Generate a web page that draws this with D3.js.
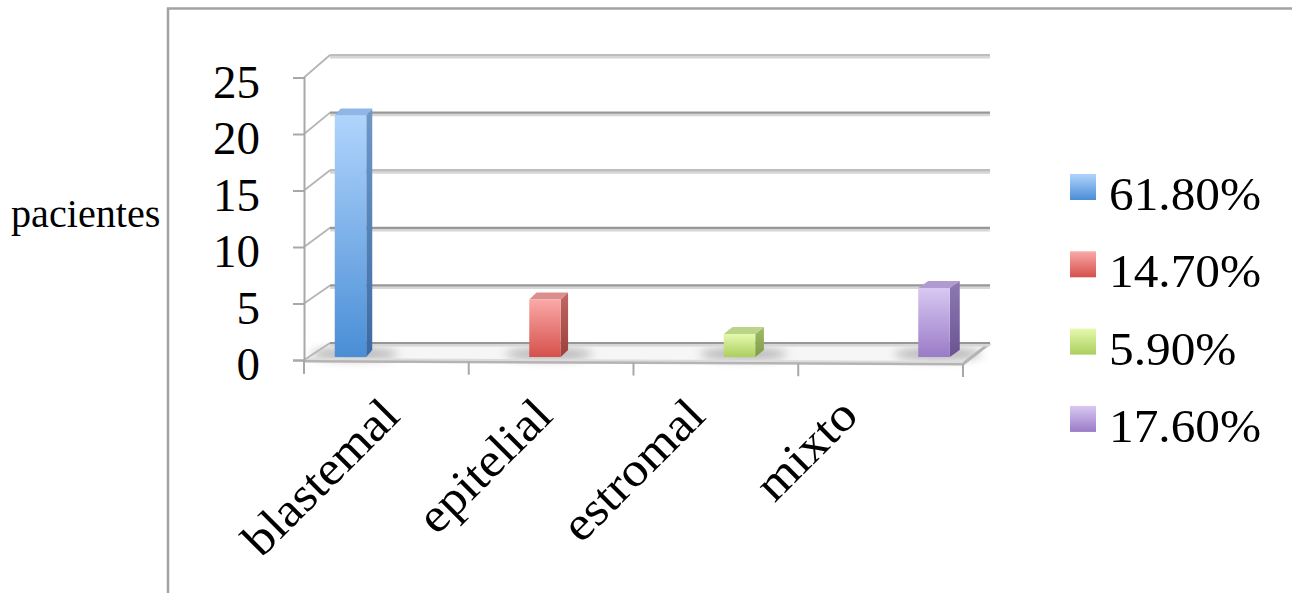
<!DOCTYPE html>
<html>
<head>
<meta charset="utf-8">
<script src="https://cdn.jsdelivr.net/npm/d3@7/dist/d3.min.js"></script>
<style>
  html, body { margin: 0; padding: 0; background: #fff; }
  svg { display: block; }
  text { font-family: "Liberation Serif", "Times New Roman", serif; fill: #000; }
</style>
</head>
<body>
<svg id="chart" width="1292" height="593"></svg>
<script>
// Tumour histology groups and patient counts
const categories = ["blastemal", "epitelial", "estromal", "mixto"];
const patients = [21, 5, 2, 6];
const shareLabels = ["61.80%", "14.70%", "5.90%", "17.60%"];
const yTicks = [0, 5, 10, 15, 20, 25];
const axisTitle = "pacientes";

// Face colours for each series: [front top, front bottom, side top, side bottom, top face]
const palette = [
  ["#b0d4fc", "#4a8ed6", "#7099c9", "#3a6aa4", "#8fb6e8"],
  ["#f9a9a7", "#d6504c", "#bf6865", "#9c3f3c", "#dc8e8c"],
  ["#e6f9ae", "#abcf5e", "#a0bc66", "#7f9b45", "#bad489"],
  ["#d8c8f2", "#9a7bc7", "#8e79b3", "#6a5393", "#b09bd1"]
];

const svg = d3.select("#chart");
const defs = svg.append("defs");

// Scales: front axis plane, back wall plane, and the bar plane in between
const yFront = d3.scaleLinear().domain([0, 25]).range([360, 77.5]);
const yBack = d3.scaleLinear().domain([0, 25]).range([343, 55]);
const yBar = d3.scaleLinear().domain([0, 25]).range([357, 69.5]);
const xFront = d3.scaleBand().domain(categories).range([304, 963]);
const xBar = d3.scalePoint().domain(categories).range([350.5, 934]);
const xLabel = d3.scalePoint().domain(categories).range([402, 860]);

const wallLeft = 330, wallRight = 990;
const frontLeft = 304, frontRight = 963;
const floorFrontY = x => 361 + (x - frontLeft) / (frontRight - frontLeft) * 3;

// Outer chart border
svg.append("path")
  .attr("d", "M168,593 L168,8.5 L1292,8.5")
  .attr("fill", "none").attr("stroke", "#a3a3a3").attr("stroke-width", 2.5);

// Gradients
palette.forEach((p, i) => {
  const gf = defs.append("linearGradient").attr("id", "front" + i)
    .attr("x1", 0).attr("y1", 0).attr("x2", 0).attr("y2", 1);
  gf.append("stop").attr("offset", 0).attr("stop-color", p[0]);
  gf.append("stop").attr("offset", 1).attr("stop-color", p[1]);
  const gs = defs.append("linearGradient").attr("id", "side" + i)
    .attr("x1", 0).attr("y1", 0).attr("x2", 0).attr("y2", 1);
  gs.append("stop").attr("offset", 0).attr("stop-color", p[2]);
  gs.append("stop").attr("offset", 1).attr("stop-color", p[3]);
});
defs.append("filter").attr("id", "soft").attr("x", "-50%").attr("y", "-200%")
  .attr("width", "200%").attr("height", "500%")
  .append("feGaussianBlur").attr("stdDeviation", 5);

// Floor
const floor = svg.append("g");
floor.append("path")
  .attr("d", `M${frontLeft},${floorFrontY(frontLeft)} L${wallLeft},${yBack(0)} L${wallRight},${yBack(0)} L${frontRight},${floorFrontY(frontRight)} Z`)
  .attr("fill", "#f6f6f6");

// Soft shadows on the floor around each bar base
floor.selectAll("ellipse").data(categories).join("ellipse")
  .attr("cx", d => xBar(d) + 4)
  .attr("cy", yBar(0) - 3)
  .attr("rx", 44).attr("ry", 6)
  .attr("fill", "#9a9a9a").attr("opacity", 0.7)
  .attr("filter", "url(#soft)");

// Back wall gridlines and the receding lines on the left side wall
const grid = svg.append("g");
grid.selectAll("line.side").data(yTicks).join("line")
  .attr("class", "side")
  .attr("x1", frontLeft).attr("y1", d => yFront(d))
  .attr("x2", wallLeft).attr("y2", d => yBack(d))
  .attr("stroke", "#b5b5b5").attr("stroke-width", 1.8);
grid.selectAll("line.shade").data(yTicks).join("line")
  .attr("class", "shade")
  .attr("x1", wallLeft).attr("x2", wallRight)
  .attr("y1", d => yBack(d) + 2.2).attr("y2", d => yBack(d) + 2.2)
  .attr("stroke", "#d6d6d6").attr("stroke-width", 2.8);
grid.selectAll("line.major").data(yTicks).join("line")
  .attr("class", "major")
  .attr("x1", wallLeft).attr("x2", wallRight)
  .attr("y1", d => yBack(d)).attr("y2", d => yBack(d))
  .attr("stroke", d => d === 15 || d === 25 ? "#bdbdbd" : "#979797").attr("stroke-width", 2.2);

// Floor front and right edges
floor.append("path")
  .attr("d", `M${frontLeft},${floorFrontY(frontLeft)} L${frontRight},${floorFrontY(frontRight)} L${wallRight},${yBack(0)}`)
  .attr("fill", "none").attr("stroke", "#b4b4b4").attr("stroke-width", 3);
floor.append("path")
  .attr("d", `M${frontLeft},${floorFrontY(frontLeft) - 2} L${frontRight},${floorFrontY(frontRight) - 2}`)
  .attr("fill", "none").attr("stroke", "#dcdcdc").attr("stroke-width", 2);

// Bars
const barW = 31.5, topDy = 7;
const sideDx = x => 6 + 4 * (x - xBar.range()[0]) / (xBar.range()[1] - xBar.range()[0]);
const bars = svg.append("g").selectAll("g").data(categories).join("g");
bars.each(function (c, i) {
  const g = d3.select(this);
  const xl = xBar(c) - barW / 2, xr = xBar(c) + barW / 2;
  const yt = yBar(patients[i]), yb = yBar(0);
  const dx = sideDx(xBar(c));
  g.append("path")
    .attr("d", `M${xr},${yt} L${xr + dx},${yt - topDy} L${xr + dx},${yb - topDy} L${xr},${yb} Z`)
    .attr("fill", `url(#side${i})`);
  g.append("path")
    .attr("d", `M${xl},${yt} L${xl + dx},${yt - topDy} L${xr + dx},${yt - topDy} L${xr},${yt} Z`)
    .attr("fill", palette[i][4]);
  g.append("rect")
    .attr("x", xl).attr("y", yt).attr("width", barW).attr("height", yb - yt)
    .attr("fill", `url(#front${i})`);
});

// Vertical value axis on the front plane
const yAxis = svg.append("g")
  .attr("transform", `translate(${frontLeft},0)`)
  .call(d3.axisLeft(yFront).tickValues(yTicks).tickSize(11).tickPadding(33).tickFormat(d3.format("d")));
yAxis.select(".domain").attr("stroke", "#a8a8a8").attr("stroke-width", 2);
yAxis.selectAll(".tick line").attr("stroke", "#a8a8a8").attr("stroke-width", 2);
yAxis.selectAll(".tick text")
  .attr("dy", "0.42em")
  .style("font-size", "47px")
  .style("font-family", "'Liberation Serif', serif")
  .attr("fill", "#000");

// Category tick marks below the floor
const catEdges = categories.map(c => xFront(c)).concat([xFront(categories[categories.length - 1]) + xFront.bandwidth()]);
svg.append("g").selectAll("line").data(catEdges).join("line")
  .attr("x1", d => d).attr("x2", d => d)
  .attr("y1", d => floorFrontY(d)).attr("y2", d => floorFrontY(d) + 13)
  .attr("stroke", "#a8a8a8").attr("stroke-width", 2);

// Rotated category labels
svg.append("g").selectAll("text").data(categories).join("text")
  .attr("transform", d => `translate(${xLabel(d)},418) rotate(-45) scale(1.08,1)`)
  .attr("text-anchor", "end")
  .style("font-size", "48px")
  .text(d => d);

// Axis title
svg.append("text")
  .attr("transform", "translate(11,227) scale(1.03,1)")
  .style("font-size", "39px")
  .text(axisTitle);

// Legend
const legend = svg.append("g").selectAll("g").data(shareLabels).join("g")
  .attr("transform", (d, i) => `translate(1070,${174 + i * 77.3})`);
legend.append("rect")
  .attr("width", 26).attr("height", 26)
  .attr("fill", (d, i) => `url(#front${i})`);
legend.append("text")
  .attr("transform", "translate(39,36) scale(1.05,1)")
  .style("font-size", "47px")
  .text(d => d);
</script>
</body>
</html>
